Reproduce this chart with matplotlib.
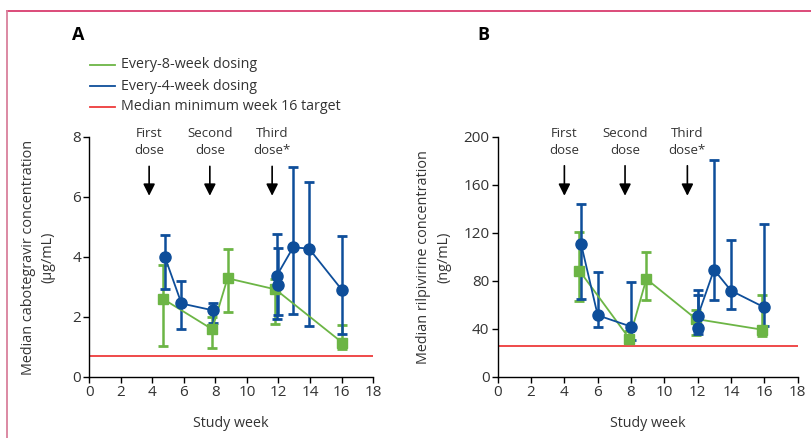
import matplotlib
matplotlib.use("Agg")
import matplotlib.pyplot as plt
from matplotlib.lines import Line2D
import numpy as np

plt.rcParams['font.family'] = ['Open Sans', 'DejaVu Sans']

# ---------------- Panel A data (cabotegravir, ug/mL) ----------------
a_q4_weeks = [4.8, 5.85, 7.86]
a_q4_med = [4.0, 2.45, 2.22]
a_q4_lo = [2.93, 1.6, 1.8]
a_q4_hi = [4.74, 3.2, 2.46]

a_q4b_weeks = [11.9, 12.93, 13.94, 16.03]
a_q4b_med = [3.38, 4.32, 4.28, 2.9]
a_q4b_lo = [1.92, 2.1, 1.7, 1.44]
a_q4b_hi = [4.78, 6.99, 6.51, 4.70]

a_q4c_weeks = [11.97]
a_q4c_med = [3.06]
a_q4c_lo = [2.07]
a_q4c_hi = [4.30]

a_q8_weeks = [4.69, 7.8, 8.77, 11.81, 16.06]
a_q8_med = [2.6, 1.59, 3.29, 2.92, 1.14]
a_q8_lo = [1.04, 0.96, 2.16, 1.77, 0.93]
a_q8_hi = [3.73, 2.0, 4.25, 3.25, 1.74]

a_target = 0.69
a_arrows = [3.8, 7.65, 11.6]

# ---------------- Panel B data (rilpivirine, ng/mL) ----------------
b_q4_weeks = [5.0, 6.0, 8.0]
b_q4_med = [111.1, 51.4, 42.0]
b_q4_lo = [65.0, 42.0, 30.6]
b_q4_hi = [144.2, 87.2, 79.4]

b_q4b_weeks = [12.0, 12.98, 14.0, 16.0]
b_q4b_med = [50.5, 89.4, 71.9, 58.0]
b_q4b_lo = [38.0, 63.9, 56.4, 42.8]
b_q4b_hi = [72.8, 181.0, 113.9, 127.8]

b_q4c_weeks = [12.0]
b_q4c_med = [40.7]
b_q4c_lo = [36.0]
b_q4c_hi = [68.0]

b_q8_weeks = [4.9, 7.9, 8.92, 11.9, 15.88]
b_q8_med = [88.6, 32.0, 81.7, 48.3, 39.4]
b_q8_lo = [63.0, 31.0, 63.9, 35.3, 34.4]
b_q8_hi = [121.0, 38.6, 104.4, 56.0, 68.0]

b_target = 26.0
b_arrows = [4.0, 7.64, 11.38]

dose_labels = ["First\ndose", "Second\ndose", "Third\ndose*"]

GREEN = "#6cb545"
BLUE = "#0e4e9a"
RED = "#ee3b3b"
TXT = "#333333"

fig = plt.figure(figsize=(8.11, 4.38), dpi=100)
axA = fig.add_axes([0.110, 0.1393, 0.350, 0.5480])
axB = fig.add_axes([0.6137, 0.1393, 0.3699, 0.5480])


def eb(ax, x, med, lo, hi, color, marker, ms, line=True):
    med = np.array(med); lo = np.array(lo); hi = np.array(hi)
    ax.errorbar(x, med, yerr=[med - lo, hi - med], color=color,
                ecolor=color, elinewidth=1.8, capsize=3.5, capthick=2.0,
                marker=marker, markersize=ms, linestyle='-' if line else 'none',
                linewidth=1.3, zorder=3, clip_on=False)


def panel(ax, ymax, ystep, target, arrows, ylabel, ylab_x, arrow_top, arrow_tip, text_y,
          q8, q4, q4b, q4c):
    ax.axhline(target, color=RED, lw=1.3, zorder=1)
    eb(ax, *q8, GREEN, 's', 7)
    eb(ax, *q4, BLUE, 'o', 8)
    eb(ax, *q4b, BLUE, 'o', 8)
    eb(ax, *q4c, BLUE, 'o', 8, line=False)
    for xa, lab in zip(arrows, dose_labels):
        ax.annotate("", xy=(xa, arrow_tip), xytext=(xa, arrow_top),
                    arrowprops=dict(arrowstyle='-|>,head_length=0.7,head_width=0.35',
                                    color='black', lw=1.2, shrinkA=0, shrinkB=0))
        ax.text(xa, text_y, lab, ha='center', va='center', fontsize=9.5,
                color=TXT, linespacing=1.45, clip_on=False)
    ax.set_xlim(0, 18)
    ax.set_ylim(0, ymax)
    ax.set_xticks(np.arange(0, 19, 2))
    ax.set_yticks(np.arange(0, ymax + 0.01, ystep))
    for s in ['top', 'right']:
        ax.spines[s].set_visible(False)
    for s in ['left', 'bottom']:
        ax.spines[s].set_linewidth(1.0)
    ax.tick_params(direction='out', length=4, width=1.0, labelsize=11,
                   labelcolor=TXT, pad=2)
    ax.set_xlabel("Study week", fontsize=10.3, color=TXT, labelpad=11)
    ax.set_ylabel(ylabel, fontsize=10.4, color=TXT, linespacing=1.45)
    ax.yaxis.set_label_coords(ylab_x, 0.5)


panel(axA, 8, 2, a_target, a_arrows,
      "Median cabotegravir concentration\n(µg/mL)", -0.118, 7.02, 6.04, 7.83,
      (a_q8_weeks, a_q8_med, a_q8_lo, a_q8_hi),
      (a_q4_weeks, a_q4_med, a_q4_lo, a_q4_hi),
      (a_q4b_weeks, a_q4b_med, a_q4b_lo, a_q4b_hi),
      (a_q4c_weeks, a_q4c_med, a_q4c_lo, a_q4c_hi))
panel(axB, 200, 40, b_target, b_arrows,
      "Median rilpivirine concentration\n(ng/mL)", -0.156, 176, 151, 195.7,
      (b_q8_weeks, b_q8_med, b_q8_lo, b_q8_hi),
      (b_q4_weeks, b_q4_med, b_q4_lo, b_q4_hi),
      (b_q4b_weeks, b_q4b_med, b_q4b_lo, b_q4b_hi),
      (b_q4c_weeks, b_q4c_med, b_q4c_lo, b_q4c_hi))

# panel letters
fig.text(72 / 811, 1 - 35 / 438, "A", fontsize=13, fontweight='bold', va='center', ha='left')
fig.text(477 / 811, 1 - 35 / 438, "B", fontsize=13, fontweight='bold', va='center', ha='left')

# legend
leg_items = [("Every-8-week dosing", GREEN), ("Every-4-week dosing", BLUE),
             ("Median minimum week 16 target", RED)]
for i, (lab, col) in enumerate(leg_items):
    yy = 1 - (65 + 21 * i) / 438
    fig.add_artist(Line2D([90 / 811, 115 / 811], [yy, yy], color=col, lw=1.3))
    fig.text(121 / 811, yy, lab, fontsize=10.3, color=TXT, va='center', ha='left')

# frame
fig.add_artist(Line2D([7 / 811, 1.0], [1 - 10.5 / 438, 1 - 10.5 / 438], color="#d93d6e", lw=1.3))
fig.add_artist(Line2D([6.5 / 811, 6.5 / 811], [0, 1 - 10.5 / 438], color="#d9809c", lw=1.3))

fig.savefig("out.png", dpi=100)
